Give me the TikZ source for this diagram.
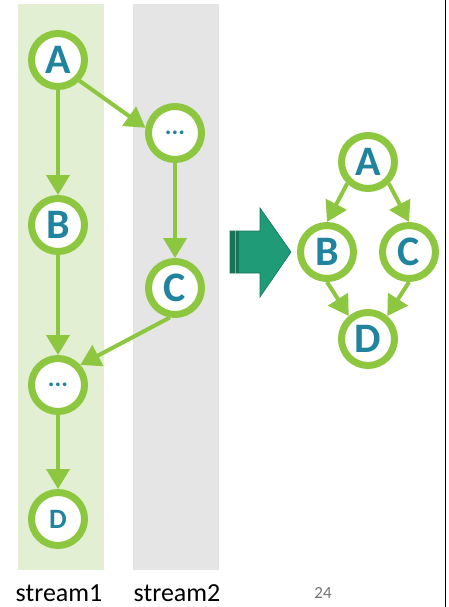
\documentclass[tikz,border=0pt]{standalone}
\usepackage{fontspec}
\setmainfont{Carlito}
\usetikzlibrary{arrows.meta}
\definecolor{gr}{HTML}{8DC63F}
\definecolor{tl}{HTML}{21849E}
\definecolor{lgr}{HTML}{E2EFD2}
\definecolor{lgy}{HTML}{E5E5E5}
\definecolor{bigar}{HTML}{1F9B78}
\definecolor{bigard}{HTML}{167459}
\tikzset{
  nd/.style={circle, draw=gr, line width=7pt, fill=white, minimum size=53pt, inner sep=0pt,
    text=tl, font=\fontsize{42}{44}\selectfont\bfseries},
  ndsmall/.style={nd, font=\fontsize{28}{30}\selectfont\bfseries},
  nddots/.style={nd, font=\fontsize{25}{26}\selectfont\bfseries},
  ar/.style={draw=gr, line width=4pt, -{Triangle[length=20pt,width=23pt]}},
  lbl/.style={font=\fontsize{26}{28}\selectfont, text=black, inner sep=0pt, anchor=base}
}
\begin{document}
\begin{tikzpicture}[x=1pt,y=-1pt]
\useasboundingbox (0,0) rectangle (448,607);
\fill[lgr] (18,4) rectangle (104,570);
\fill[lgy] (133,4) rectangle (219,570);
\draw[line width=1.2pt] (445.5,0) -- (445.5,607);
% left graph
\node[nd] (A) at (58,60) {A};
\node[nddots] (d1) at (175,133) {\raisebox{-4pt}{...}};
\node[nd] (B) at (58,225) {B};
\node[nd] (C) at (175,288) {C};
\node[nddots] (d2) at (58,385) {\raisebox{-4pt}{...}};
\node[ndsmall] (D) at (58,519) {D};
\draw[ar] (A) -- (B);
\draw[ar] (A.-44) -- (d1.170);
\draw[ar] (d1) -- (C);
\draw[ar] (B) -- (d2);
\draw[ar] (C.-100) -- (d2.42);
\draw[ar] (d2) -- (D);
% big arrow
\fill[bigar, draw=bigard, line width=0.6pt] (230,231) -- (260,231) -- (260,208) -- (291,252) -- (260,297) -- (260,273) -- (230,273) -- cycle;
\fill[bigard] (230,231.3) rectangle (239,272.7);
\draw[bigar!70!white, line width=0.8pt] (235.3,231.3) -- (235.3,272.7);
% right graph
\node[nd] (RA) at (368,162) {A};
\node[nd] (RB) at (327,252) {B};
\node[nd] (RC) at (409,252) {C};
\node[nd] (RD) at (368,339) {D};
\draw[ar] (RA.-134) -- (RB.90);
\draw[ar] (RA.-46) -- (RC.90);
\draw[ar] (RB.-90) -- (RD.130);
\draw[ar] (RC.-90) -- (RD.50);
% labels
\node[lbl] (s1) at (59,601) {stream1};
\node[lbl] (s2) at (177,601) {stream2};
\node[font=\fontsize{17}{18}\selectfont, text=black!55, inner sep=0pt] (pg) at (323,593) {24};
\end{tikzpicture}
\end{document}
